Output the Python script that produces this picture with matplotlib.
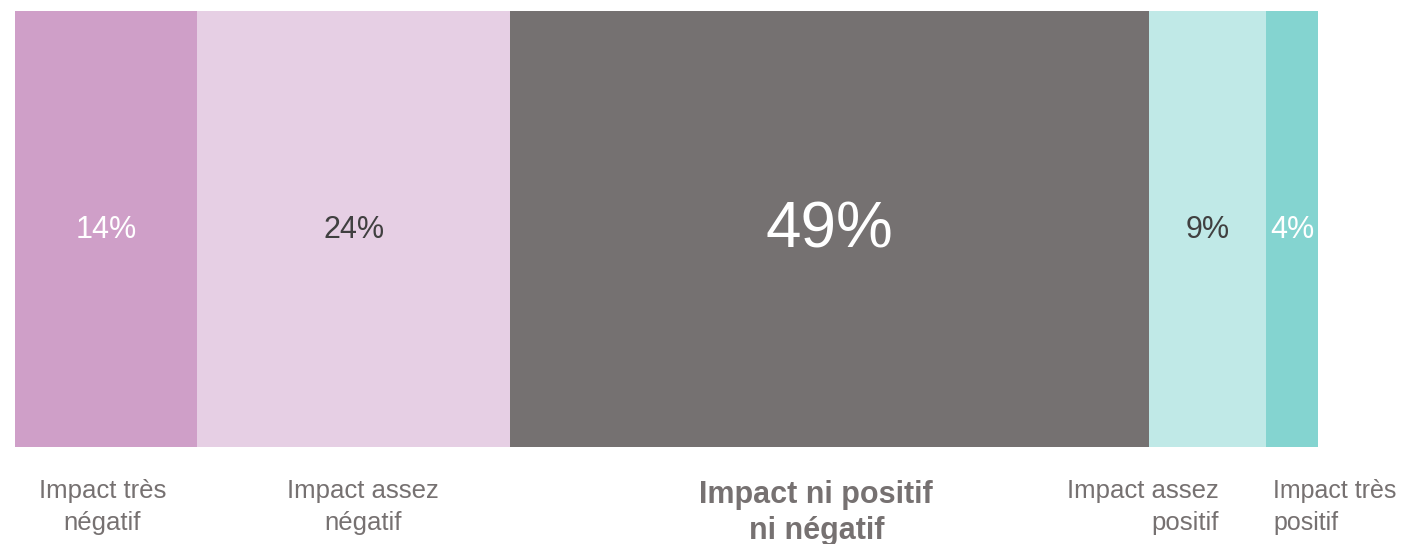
import matplotlib.pyplot as plt
from matplotlib import font_manager
import matplotlib.transforms as mtransforms

categories = ["Impact très\nnégatif", "Impact assez\nnégatif", "Impact ni positif\nni négatif",
              "Impact assez\npositif", "Impact très\npositif"]
values = [14, 24, 49, 9, 4]
colors = ["#CF9FC8", "#E6CFE4", "#757171", "#C0E9E7", "#84D4D0"]
value_colors = ["white", "#404040", "white", "#404040", "white"]

plt.rcParams['font.family'] = ['Liberation Sans', 'DejaVu Sans']
names = {f.name for f in font_manager.fontManager.ttflist}
narrow = 'Liberation Sans Narrow' if 'Liberation Sans Narrow' in names else 'Liberation Sans'

W, H = 1409, 544
fig = plt.figure(figsize=(W / 100, H / 100), dpi=100)
ax = fig.add_axes([15 / W, 97 / H, 1303 / W, 436 / H])
ax.set_xlim(0, sum(values))
ax.set_ylim(0, 1)
ax.axis("off")

left = 0
centers = []
for v, c, tc in zip(values, colors, value_colors):
    ax.barh(0.5, v, left=left, height=1, color=c, edgecolor="none")
    centers.append(left + v / 2)
    size = 46 if v == max(values) else 22
    ax.text(left + v / 2, 0.497, f"{v}%", ha="center", va="center",
            color=tc, fontsize=size)
    left += v

trans = mtransforms.blended_transform_factory(ax.transData, fig.transFigure)
y_lab = 1 - 479 / H
gray = "#767171"
ax.text(centers[0] - 0.3, y_lab, categories[0], transform=trans, ha="center", va="top",
        fontsize=18.5, color=gray, linespacing=1.4)
ax.text(centers[1] + 0.7, y_lab, categories[1], transform=trans, ha="center", va="top",
        fontsize=18.5, color=gray, linespacing=1.4, multialignment="center")
ax.text(centers[2] - 1.0, 1 - 480 / H, categories[2], transform=trans, ha="center", va="top",
        fontsize=22, color=gray, fontweight="bold", family=narrow, linespacing=1.25)
edge4 = sum(values[:4])
ax.text(edge4 - 3.6, y_lab, categories[3], transform=trans, ha="right", va="top",
        fontsize=18.5, color=gray, linespacing=1.4, multialignment="right")
ax.text(edge4 + 0.55, y_lab, categories[4], transform=trans, ha="left", va="top",
        fontsize=18, color=gray, linespacing=1.4, multialignment="left")

fig.savefig("out.png", dpi=100)
